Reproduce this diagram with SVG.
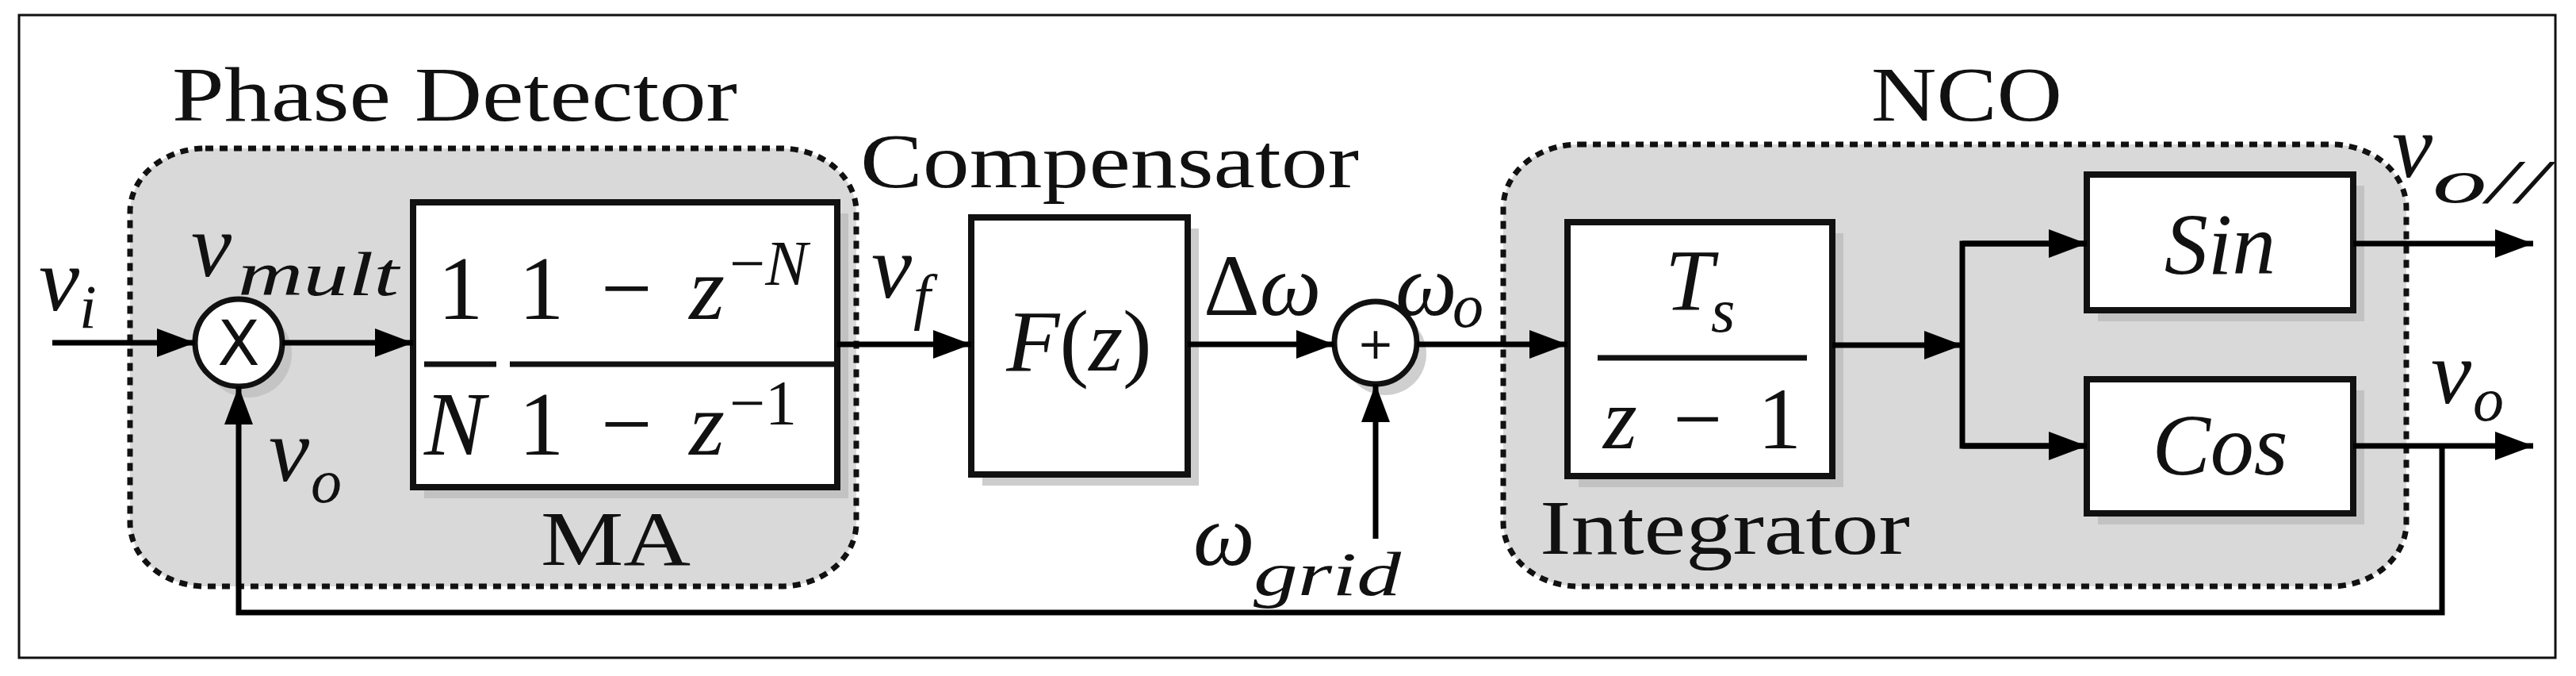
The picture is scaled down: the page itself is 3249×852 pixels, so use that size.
<svg xmlns="http://www.w3.org/2000/svg" width="3249" height="852" viewBox="0 0 3249 852">
<style>
.ln{stroke:#000;stroke-width:7;fill:none}
.box{fill:#fff;stroke:#111;stroke-width:8}
.sh{fill:#b8b8b8;opacity:0.7}
.grp{fill:#d9d9d9;stroke:#111;stroke-width:7;stroke-dasharray:10 8}
.lbl{font-family:"Liberation Serif",serif;font-size:98px;fill:#111}
.m{font-family:"Liberation Serif",serif;font-style:italic;fill:#111}
.mu{font-family:"Liberation Serif",serif;fill:#111}
</style>
<defs>
<marker id="ar" markerUnits="userSpaceOnUse" markerWidth="50" markerHeight="40" refX="48" refY="20" orient="auto">
<path d="M0,2 L48,20 L0,38 Z" fill="#000"/>
</marker>
</defs>
<rect x="24" y="19" width="3199" height="810" fill="#fff" stroke="#111" stroke-width="3"/>
<g id="phase-detector">
<rect class="grp" x="164" y="187" width="916" height="552" rx="95" ry="80"/>
<text class="lbl" x="217" y="152" textLength="713" lengthAdjust="spacingAndGlyphs">Phase Detector</text>
</g>
<g id="nco">
<rect class="grp" x="1896" y="182" width="1139" height="557" rx="95" ry="80"/>
<text class="lbl" x="2360" y="152" textLength="241" lengthAdjust="spacingAndGlyphs">NCO</text>
</g>
<g id="multiplier">
<circle cx="313" cy="446" r="55" fill="#bbb" opacity="0.7"/>
<circle cx="301" cy="432" r="55" fill="#fff" stroke="#111" stroke-width="7"/>
<text x="301" y="460" text-anchor="middle" font-family="DejaVu Sans,sans-serif" font-size="78" fill="#111">X</text>
</g>
<g id="ma">
<rect class="sh" x="535" y="269" width="535" height="359"/>
<rect class="box" x="521" y="255" width="535" height="359"/>
<text class="mu" x="552" y="402" font-size="115">1</text>
<text class="m" x="535" y="573" font-size="115">N</text>
<line x1="535" y1="459" x2="626" y2="459" stroke="#111" stroke-width="7"/>
<line x1="643" y1="459" x2="1052" y2="459" stroke="#111" stroke-width="7"/>
<text class="mu" x="654" y="402" font-size="115" textLength="260" lengthAdjust="spacing">1 − <tspan font-style="italic">z</tspan></text>
<text class="mu" x="920" y="359" font-size="80">−<tspan font-style="italic">N</tspan></text>
<text class="mu" x="654" y="573" font-size="115" textLength="260" lengthAdjust="spacing">1 − <tspan font-style="italic">z</tspan></text>
<text class="mu" x="920" y="535" font-size="80">−1</text>
<text class="lbl" x="682" y="712" textLength="189" lengthAdjust="spacingAndGlyphs">MA</text>
</g>
<g id="compensator">
<text class="lbl" x="1085" y="236" textLength="629" lengthAdjust="spacingAndGlyphs">Compensator</text>
<rect class="sh" x="1239" y="288" width="273" height="324"/>
<rect class="box" x="1225" y="274" width="273" height="324"/>
<text class="m" x="1361" y="467" font-size="110" text-anchor="middle">F<tspan font-style="normal">(</tspan>z<tspan font-style="normal">)</tspan></text>
</g>
<g id="summer">
<circle cx="1747" cy="446" r="52" fill="#bbb" opacity="0.7"/>
<circle cx="1735" cy="432" r="52" fill="#fff" stroke="#111" stroke-width="7"/>
<text x="1735" y="452" text-anchor="middle" font-family="DejaVu Sans,sans-serif" font-size="56" fill="#111">+</text>
</g>
<g id="integrator">
<rect class="sh" x="1991" y="294" width="334" height="320"/>
<rect class="box" x="1977" y="280" width="334" height="320"/>
<text class="m" x="2100" y="391" font-size="110">T</text>
<text class="m" x="2158" y="418" font-size="78">s</text>
<line x1="2015" y1="451" x2="2279" y2="451" stroke="#111" stroke-width="7"/>
<text class="m" x="2022" y="565" font-size="110" textLength="250" lengthAdjust="spacing">z <tspan font-style="normal">− 1</tspan></text>
<text class="lbl" x="1942" y="698" textLength="467" lengthAdjust="spacingAndGlyphs">Integrator</text>
</g>
<g id="sin">
<rect class="sh" x="2646" y="234" width="336" height="171"/>
<rect class="box" x="2632" y="220" width="336" height="171"/>
<text class="m" x="2800" y="345" font-size="110" text-anchor="middle">Sin</text>
</g>
<g id="cos">
<rect class="sh" x="2646" y="492" width="336" height="169"/>
<rect class="box" x="2632" y="478" width="336" height="169"/>
<text class="m" x="2800" y="598" font-size="110" text-anchor="middle">Cos</text>
</g>
<g id="connectors">
<line class="ln" x1="66" y1="432" x2="246" y2="432" marker-end="url(#ar)"/>
<line class="ln" x1="356" y1="432" x2="521" y2="432" marker-end="url(#ar)"/>
<line class="ln" x1="1056" y1="434" x2="1225" y2="434" marker-end="url(#ar)"/>
<line class="ln" x1="1498" y1="434" x2="1683" y2="434" marker-end="url(#ar)"/>
<line class="ln" x1="1735" y1="679" x2="1735" y2="484" marker-end="url(#ar)"/>
<line class="ln" x1="1787" y1="434" x2="1977" y2="434" marker-end="url(#ar)"/>
<line class="ln" x1="2311" y1="435" x2="2475" y2="435" marker-end="url(#ar)"/>
<polyline class="ln" points="2632,307 2475,307 2475,562 2632,562"/>
<line class="ln" x1="2475" y1="307" x2="2632" y2="307" marker-end="url(#ar)"/>
<line class="ln" x1="2475" y1="562" x2="2632" y2="562" marker-end="url(#ar)"/>
<line class="ln" x1="2968" y1="307" x2="3195" y2="307" marker-end="url(#ar)"/>
<line class="ln" x1="2968" y1="562" x2="3195" y2="562" marker-end="url(#ar)"/>
<polyline class="ln" points="3080,562 3080,772 301,772 301,487" marker-end="url(#ar)"/>
</g>
<g id="labels">
<text class="m" x="49" y="391" font-size="115">v</text><text class="m" x="100" y="413" font-size="78">i</text>
<text class="m" x="241" y="348" font-size="115">v</text><text class="m" x="300" y="372" font-size="78" textLength="203" lengthAdjust="spacingAndGlyphs">mult</text>
<text class="m" x="339" y="606" font-size="115">v</text><text class="m" x="392" y="633" font-size="78">o</text>
<text class="m" x="1099" y="375" font-size="115">v</text><text class="m" x="1152" y="400" font-size="78">f</text>
<text class="m" x="1518" y="397" font-size="110"><tspan font-style="normal">Δ</tspan>ω</text>
<text class="m" x="1760" y="397" font-size="110">ω</text><text class="m" x="1832" y="412" font-size="78">o</text>
<text class="m" x="1505" y="712" font-size="110">ω</text><text class="m" x="1581" y="750" font-size="78" textLength="186" lengthAdjust="spacingAndGlyphs">grid</text>
<text class="m" x="3017" y="223" font-size="115">v</text><text class="m" x="3068" y="255" font-size="78" textLength="145" lengthAdjust="spacingAndGlyphs">o//</text>
<text class="m" x="3066" y="508" font-size="115">v</text><text class="m" x="3119" y="530" font-size="78">o</text>
</g>
</svg>
